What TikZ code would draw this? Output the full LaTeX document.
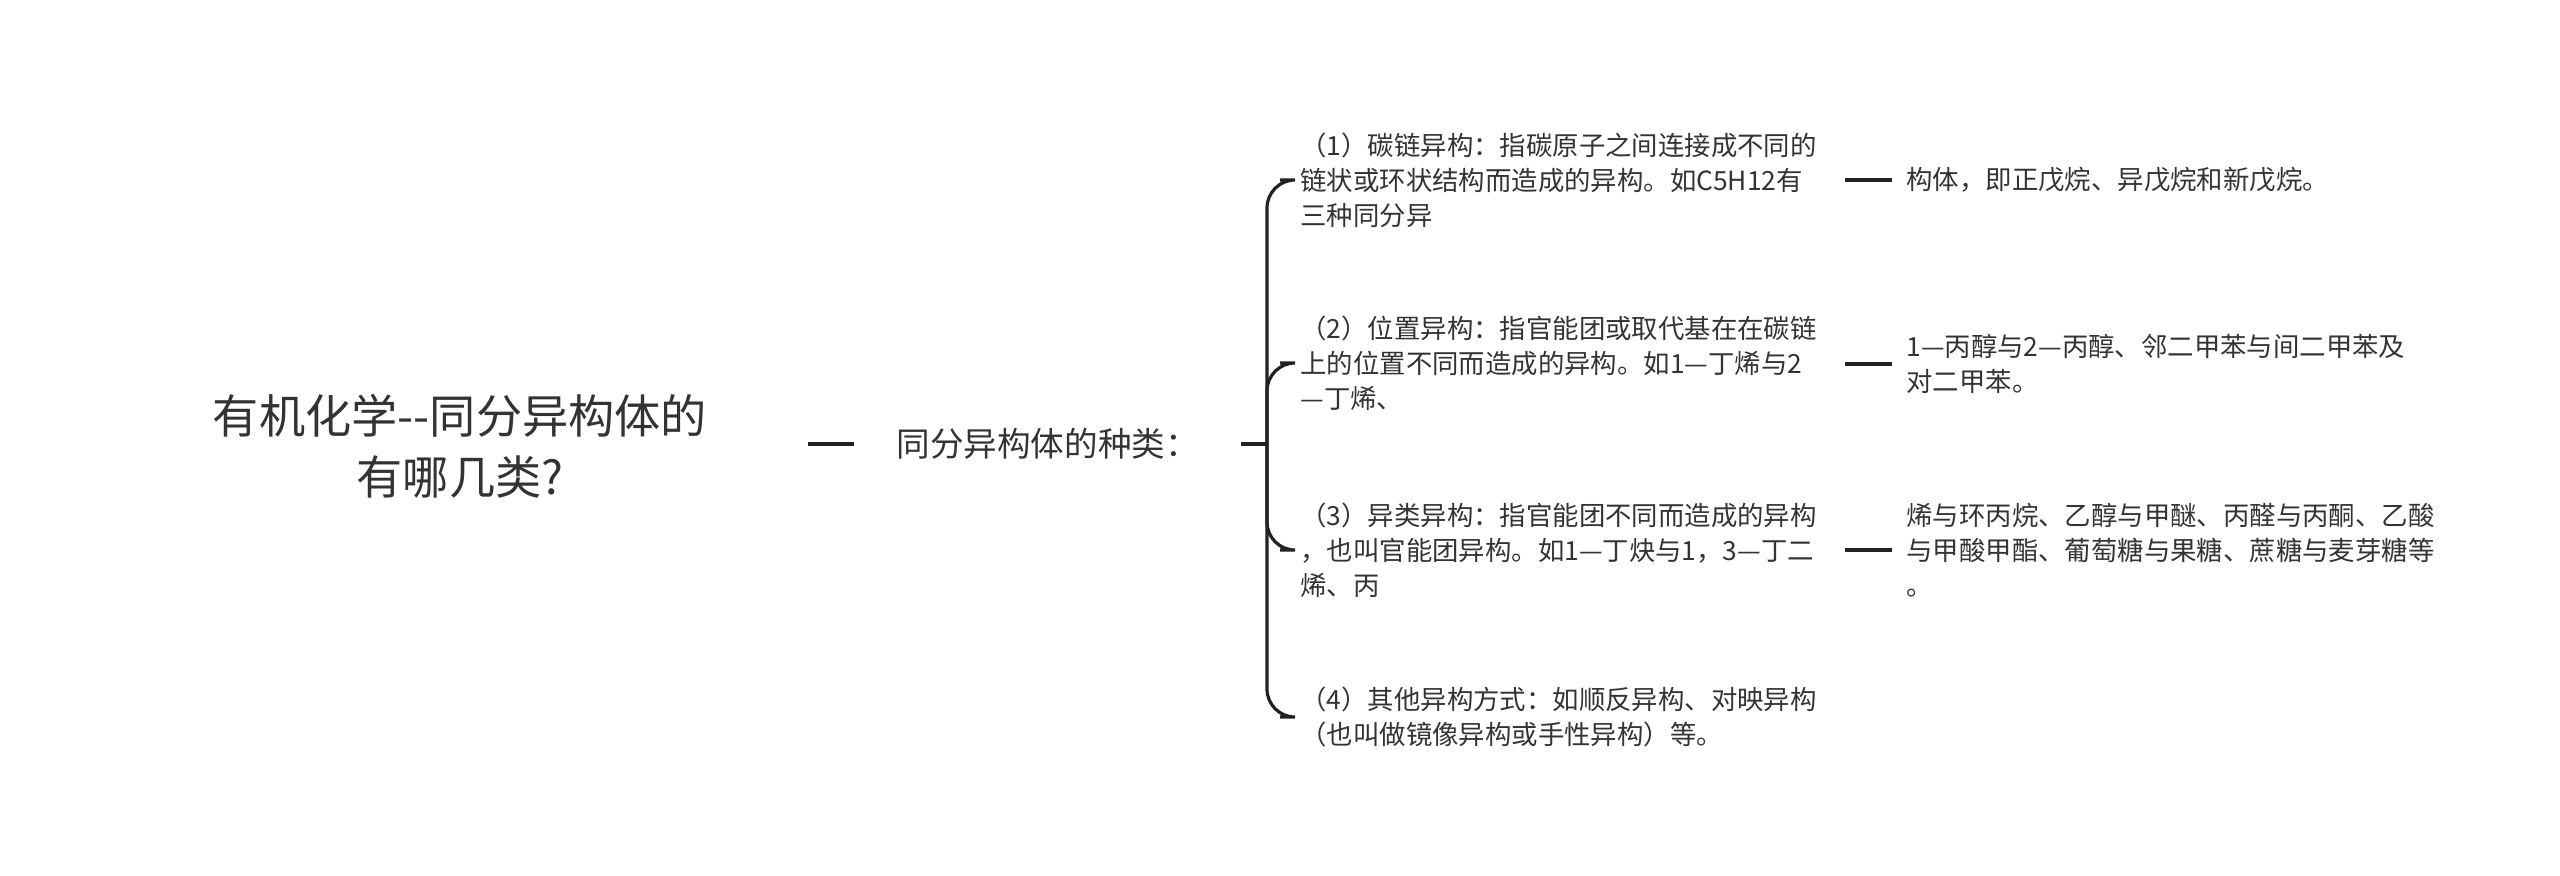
\documentclass[tikz,border=0pt]{standalone}
\usepackage{fontspec}
\newfontfamily\cjk{Noto Sans CJK SC}
\definecolor{txt}{HTML}{333333}
\definecolor{ln}{HTML}{222222}
\begin{document}
\begin{tikzpicture}[x=0.5pt,y=-0.5pt,
  child/.style={anchor=west,inner sep=0pt,align=left,text=txt,font=\cjk\fontsize{13.2}{17.6}\selectfont},
  conn/.style={draw=ln,line width=1.8pt},
  brace/.style={draw=ln,line width=1.6pt,rounded corners=14pt}]
\useasboundingbox (0,0) rectangle (2560,875);
\node[inner sep=0pt,align=center,text=txt,font=\cjk\fontsize{23.1}{30.5}\selectfont] (root) at (460,446) {有机化学--同分异构体的\\有哪几类?};
\node[anchor=west,inner sep=0pt,text=txt,font=\cjk\fontsize{16.8}{18}\selectfont] (l1) at (896,444) {同分异构体的种类：};
\coordinate (r1) at (808,444); \coordinate (r2) at (854,444);
\draw[conn] (r1) -- (r2);
\coordinate (s1) at (1241,444); \coordinate (j) at (1267,444);
\draw[conn] (s1) -- (j);
\node[child] (c1) at (1300,180) {（1）碳链异构：指碳原子之间连接成不同的\\链状或环状结构而造成的异构。如C5H12有\\三种同分异};
\node[child] (c2) at (1300,363) {（2）位置异构：指官能团或取代基在在碳链\\上的位置不同而造成的异构。如1—丁烯与2\\—丁烯、};
\node[child] (c3) at (1300,550) {（3）异类异构：指官能团不同而造成的异构\\，也叫官能团异构。如1—丁炔与1，3—丁二\\烯、丙};
\node[child] (c4) at (1300,717) {（4）其他异构方式：如顺反异构、对映异构\\（也叫做镜像异构或手性异构）等。};
\foreach \c in {c1,c2,c3,c4} \draw[brace] (j) |- ([xshift=-10pt]\c.west);
\node[child] (g1) at (1906,180) {构体，即正戊烷、异戊烷和新戊烷。};
\node[child] (g2) at (1906,364) {1—丙醇与2—丙醇、邻二甲苯与间二甲苯及\\对二甲苯。};
\node[child] (g3) at (1906,550) {烯与环丙烷、乙醇与甲醚、丙醛与丙酮、乙酸\\与甲酸甲酯、葡萄糖与果糖、蔗糖与麦芽糖等\\。};
\foreach \g/\y in {g1/180,g2/364,g3/550} {
  \coordinate (a\g) at (1845,\y);
  \draw[conn] (a\g) -- ([xshift=-7pt]\g.west);
}
\end{tikzpicture}
\end{document}
